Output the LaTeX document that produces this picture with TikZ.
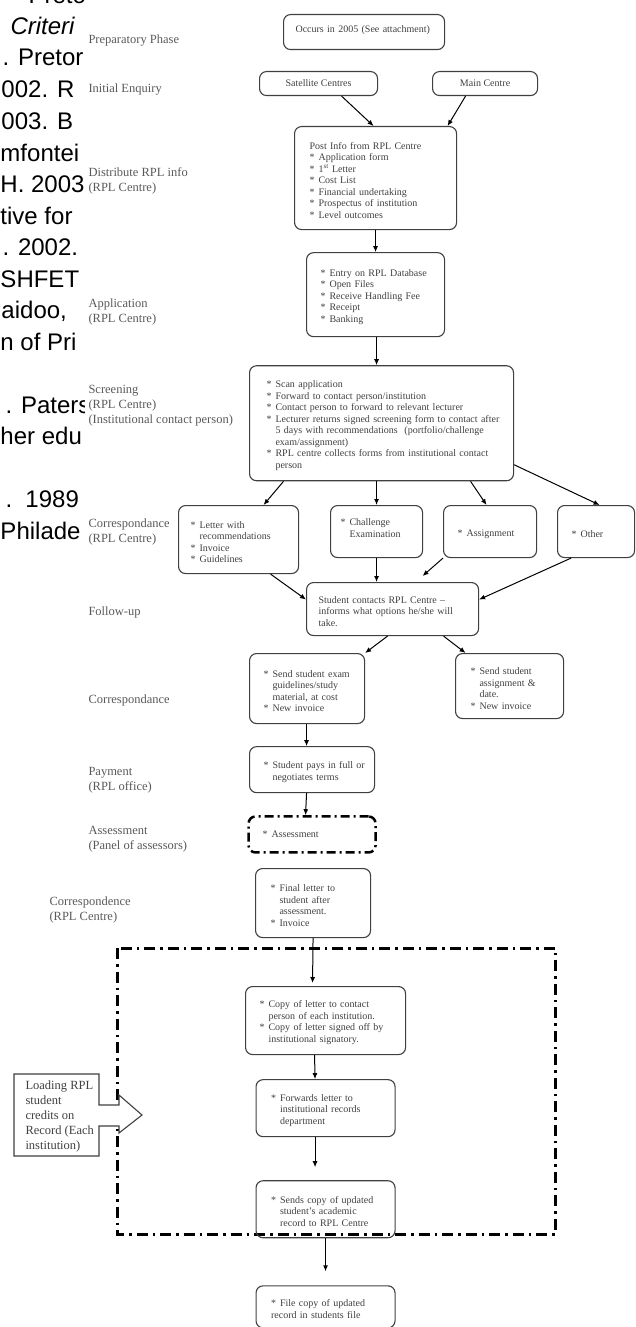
\documentclass[tikz,border=0pt]{standalone}
\usepackage{fontspec}
\setmainfont{Liberation Serif}
\newfontfamily\fragsans{Liberation Sans}
\usetikzlibrary{arrows.meta, positioning}

\newcommand{\boxfont}{\fontsize{10}{11.5}\selectfont}
\newcommand{\lblfont}{\fontsize{12.5}{15}\selectfont}
\newcommand{\fragfont}{\fragsans\fontsize{24}{31.5}\selectfont}
\newcommand{\itm}[1]{\par\noindent\makebox[9pt][l]{*}\mbox{#1}}
\newcommand{\itmx}[1]{\par\noindent\hspace*{9pt}\mbox{#1}}
\newcommand{\lnx}[1]{\par\noindent\mbox{#1}}

\begin{document}
\begin{tikzpicture}[
    x=1pt, y=-1pt,
    >={Latex[length=6pt, width=5pt]},
    line width=1pt,
    box/.style = {draw=black!75, rounded corners=7pt, line width=1.1pt, align=left, font=\boxfont, text=black!75, anchor=north west},
    cbox/.style = {box, align=center},
    dbox/.style = {box, draw=black, line width=2.5pt, dash pattern=on 9pt off 4pt on 2pt off 4pt},
    frame/.style = {draw=black, line width=3pt, dash pattern=on 11pt off 5pt on 2.5pt off 5pt},
    lbl/.style = {anchor=west, align=left, inner sep=0pt, font=\lblfont, text=black!65},
    frag/.style = {anchor=base west, inner sep=0pt, font=\fragfont},
    callout/.style = {draw=black!75, line width=1.1pt, fill=white}
]
\useasboundingbox (0,0) rectangle (635,1327);

% cut-off page text on the left
\begin{scope}
\clip (0,0) rectangle (84,560);
\node[frag] (fr0) at (28,3.5) {Pretoria};
\node[frag] (fr1) at (10,35) {\itshape Criteri};
\node[frag] (fr2) at (2,66) {. Pretor};
\node[frag] (fr3) at (1,98) {002. R};
\node[frag] (fr4) at (1,129) {003. B};
\node[frag] (fr5) at (0,161) {mfontei};
\node[frag] (fr6) at (0,192) {H. 2003};
\node[frag] (fr7) at (0,224) {tive for};
\node[frag] (fr8) at (2,255) {. 2002.};
\node[frag] (fr9) at (0,287) {SHFET};
\node[frag] (fr10) at (1,318) {aidoo,};
\node[frag] (fr11) at (0,350) {n of Pri};
\node[frag] (fr12) at (5,413) {. Paters};
\node[frag] (fr13) at (0,444) {her edu};
\node[frag] (fr14) at (5,507) {.\ \ 1989};
\node[frag] (fr15) at (0,539) {Philade};
\end{scope}

% phases
\node[lbl] (prep) at (88,41) {Preparatory Phase};
\node[lbl] (enq) at (88,90) {Initial Enquiry};
\node[lbl] (dist) at (88,180.5) {Distribute RPL info\\(RPL Centre)};
\node[lbl] (appllbl) at (88,311.5) {Application\\(RPL Centre)};
\node[lbl] (scrlbl) at (88,406) {Screening\\(RPL Centre)\\(Institutional contact person)};
\node[lbl] (corlbl) at (88,531.5) {Correspondance\\(RPL Centre)};
\node[lbl] (follbl) at (88,612) {Follow-up};
\node[lbl] (cor2lbl) at (88,700) {Correspondance};
\node[lbl] (paylbl) at (88,780.5) {Payment\\(RPL office)};
\node[lbl] (asslbl) at (88,839.5) {Assessment\\(Panel of assessors)};
\node[lbl] (cor3lbl) at (49,909.5) {Correspondence\\(RPL Centre)};

% steps
\node[box, text width=137pt, inner xsep=12pt, minimum height=35pt] (occurs) at (283,14) {\lnx{Occurs in 2005 (See attachment)}\par\vspace*{9pt}};
\node[cbox, minimum width=118pt, minimum height=24pt] (satellite) at (259,71) {Satellite Centres};
\node[cbox, minimum width=105pt, minimum height=24pt] (main) at (432,71) {Main Centre};
\node[box, text width=132pt, inner xsep=15pt, minimum height=103pt] (post) at (294,126) {\lnx{Post Info from RPL Centre}\itm{Application form}\itm{1\textsuperscript{st} Letter}\itm{Cost List}\itm{Financial undertaking}\itm{Prospectus of institution}\itm{Level outcomes}};
\node[box, text width=110pt, inner xsep=14pt, minimum height=84pt, below=22pt of post] (appl) {\itm{Entry on RPL Database}\itm{Open Files}\itm{Receive Handling Fee}\itm{Receipt}\itm{Banking}};
\node[box, text width=230pt, inner xsep=17pt, minimum height=115pt, below=28pt of appl, xshift=6pt] (screen) {\itm{Scan application}\itm{Forward to contact person/institution}\itm{Contact person to forward to relevant lecturer}\itm{Lecturer returns signed screening form to contact after}\itmx{5 days with recommendations\ \ (portfolio/challenge}\itmx{exam/assignment)}\itm{RPL centre collects forms from institutional contact}\itmx{person}};

\node[box, text width=96pt, inner xsep=12pt, minimum height=68pt] (letter) at (178,505) {\itm{Letter with}\itmx{recommendations}\itm{Invoice}\itm{Guidelines}};
\node[box, text width=72pt, inner xsep=10pt, minimum height=52pt] (challenge) at (330,505) {\itm{Challenge}\itmx{Examination}\par\vspace*{12pt}};
\node[box, text width=65pt, inner xsep=14pt, minimum height=52pt] (assign) at (443,505) {\itm{Assignment}};
\node[box, text width=49pt, inner xsep=14pt, minimum height=52pt] (other) at (557,505) {\itm{Other}};

\node[box, text width=148pt, inner xsep=12pt, minimum height=53pt] (student) at (306,582) {\lnx{Student contacts RPL Centre \textendash}\lnx{informs what options he/she will}\lnx{take.}};

\node[box, text width=87pt, inner xsep=14pt, minimum height=70pt] (sendexam) at (249,653) {\itm{Send student exam}\itmx{guidelines/study}\itmx{material, at cost}\itm{New invoice}};
\node[box, text width=78pt, inner xsep=15pt, minimum height=65pt] (sendasg) at (455,653) {\itm{Send student}\itmx{assignment \&}\itmx{date.}\itm{New invoice}};
\node[box, text width=97pt, inner xsep=14pt, minimum height=46pt, below=22pt of sendexam, xshift=5pt] (pay) {\itm{Student pays in full or}\itmx{negotiates terms}};
\node[dbox, text width=99pt, inner xsep=14pt, minimum height=36pt, below=22pt of pay] (assess) {\itm{Assessment}\par\vspace*{5pt}};
\node[box, text width=85pt, inner xsep=15pt, minimum height=69pt] (final) at (255,868) {\itm{Final letter to}\itmx{student after}\itmx{assessment.}\itm{Invoice}};

% institution part
\draw[frame] (117,948) rectangle (555,1234);
\node[box, text width=132pt, inner xsep=14pt, minimum height=68pt] (copy) at (245,986) {\itm{Copy of letter to contact}\itmx{person of each institution.}\itm{Copy of letter signed off by}\itmx{institutional signatory.}};
\node[box, text width=109pt, inner xsep=15pt, minimum height=57pt, below=24pt of copy] (fwd) {\itm{Forwards letter to}\itmx{institutional records}\itmx{department}};
\node[box, text width=109pt, inner xsep=15pt, minimum height=57pt, below=43pt of fwd] (sends) {\itm{Sends copy of updated}\itmx{student's academic}\itmx{record to RPL Centre}};
\node[box, text width=109pt, inner xsep=15pt, minimum height=42pt, below=47pt of sends] (file) {\itm{File copy of updated}\lnx{record in students file}};

\coordinate (ld) at (14,1074);
\draw[callout] (ld) -- ++(85,0) -- ++(0,31) -- ++(20,0) -- ++(0,-10) -- ++(23,20) -- ++(-23,18) -- ++(0,-7) -- ++(-20,0) -- ++(0,30) -- ++(-85,0) -- cycle;
\node[lbl, text=black!75, anchor=north west] (load) at (25,1080) {Loading RPL\\student\\credits on\\Record (Each\\institution)};

\draw[->] ([xshift=23pt]satellite.south) -- ([xshift=-2pt]post.north);
\draw[->] ([xshift=-19.5pt]main.south) -- ([xshift=72pt]post.north);
\draw[->] (post) -- (appl);
\draw[->] ([xshift=1pt]appl.south) -- ([xshift=-5pt]screen.north);
\draw[->] ([xshift=-98pt]screen.south) -- ([xshift=25pt]letter.north);
\draw[->] ([xshift=-5pt]screen.south) -- (challenge.north);
\draw[->] ([xshift=89pt]screen.south) -- ([xshift=-3.5pt]assign.north);
\draw[->] ([yshift=-41.5pt]screen.east) -- ([xshift=3.5pt]other.north);
\draw[->] ([xshift=32pt]letter.south) -- ([yshift=9.5pt]student.west);
\draw[->] (challenge.south) -- ([xshift=-16pt]student.north);
\draw[->] (assign.south west) -- ([xshift=30pt, yshift=6pt]student.north);
\draw[->] ([xshift=-25pt]other.south) -- ([yshift=9.5pt]student.east);
\draw[->] ([xshift=-5pt]student.south) -- (sendexam.north east);
\draw[->] ([xshift=51pt]student.south) -- ([xshift=-44pt]sendasg.north);
\draw[->] ([xshift=-0.5pt]sendexam.south) -- ([xshift=-5.5pt]pay.north);
\draw[->] ([xshift=-5.5pt]pay.south) -- ([xshift=-6.5pt]assess.north);
\draw[->] (final.south) -- ([xshift=-13pt, yshift=3pt]copy.north);
\draw[->] ([xshift=-11pt]copy.south) -- ([xshift=-10.5pt]fwd.north);
\draw[->] ([xshift=-10.5pt]fwd.south) -- ([xshift=-10.5pt, yshift=13pt]sends.north);
\draw[->] (sends.south) -- ([yshift=14pt]file.north);
\end{tikzpicture}
\end{document}
